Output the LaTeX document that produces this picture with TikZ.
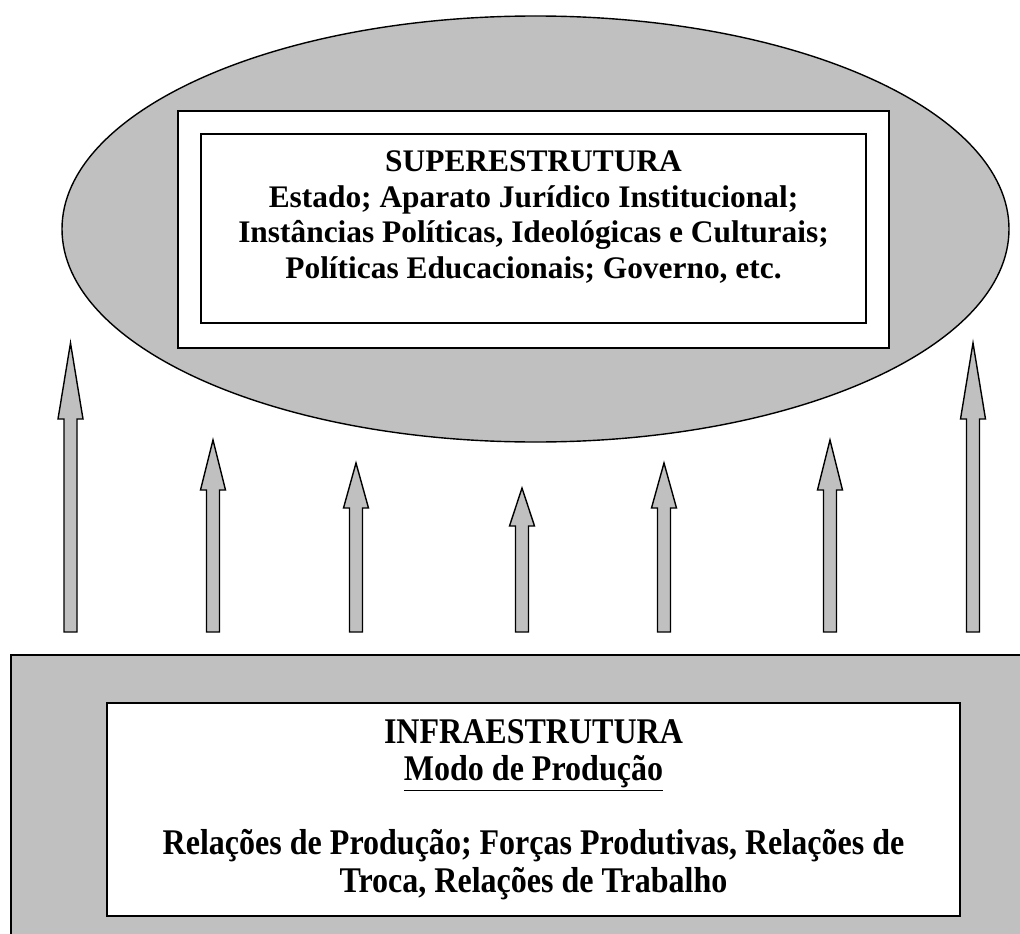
\documentclass[tikz,border=0pt]{standalone}
\usepackage{fontspec}
\setmainfont{Liberation Serif}
\definecolor{fillgray}{RGB}{192,192,192}
\begin{document}
\begin{tikzpicture}[x=1pt,y=-1pt,
  outline/.style={draw=black,line width=1.4pt},
  graybox/.style={outline,fill=fillgray},
  whitebox/.style={outline,fill=white},
  label/.style={font=\bfseries\fontsize{31.4}{35.5}\selectfont,align=center,inner sep=0pt,anchor=base},
  tallabel/.style={font=\bfseries\fontsize{31.4}{32.2}\selectfont,inner sep=0pt,anchor=base},
  uparrow/.style={outline,fill=fillgray,line join=miter}]
\useasboundingbox (0,0) rectangle (1020,934);
\clip (0,0) rectangle (1020,934);
% superstructure
\draw[graybox] (535.5,229) ellipse [x radius=473.5,y radius=213];
\node[whitebox,minimum width=711pt,minimum height=237pt,inner sep=0pt] (supouter) at (533.5,229.5) {};
\node[whitebox,minimum width=665pt,minimum height=189pt,inner sep=0pt] (supinner) at (533.5,228.5) {};
\node[label] (suptext) at (533.5,278) {SUPERESTRUTURA\\Estado; Aparato Jurídico Institucional;\\Instâncias Políticas, Ideológicas e Culturais;\\Políticas Educacionais; Governo, etc.};
% infrastructure
\draw[graybox] (11,655) rectangle (1040,960);
\node[whitebox,minimum width=853pt,minimum height=213pt,inner sep=0pt] (infinner) at (533.5,809.5) {};
\node[tallabel] (inftext) at (533.5,892) {\scalebox{1.02}[1.15]{\begin{tabular}[b]{@{}c@{}}INFRAESTRUTURA\\\underline{Modo de Produção}\\ \\Relações de Produção; Forças Produtivas, Relações de\\Troca, Relações de Trabalho\end{tabular}}};
% arrows
\foreach \x/\tip/\hb in {70.5/343/419, 213/440/490, 356/463/508, 522/488/526, 664/463/508, 830/440/490, 973/343/419}{
  \draw[uparrow] (\x-6.5,632) -- (\x-6.5,\hb) -- (\x-12.5,\hb) -- (\x,\tip) -- (\x+12.5,\hb) -- (\x+6.5,\hb) -- (\x+6.5,632) -- cycle;
}
\end{tikzpicture}
\end{document}
